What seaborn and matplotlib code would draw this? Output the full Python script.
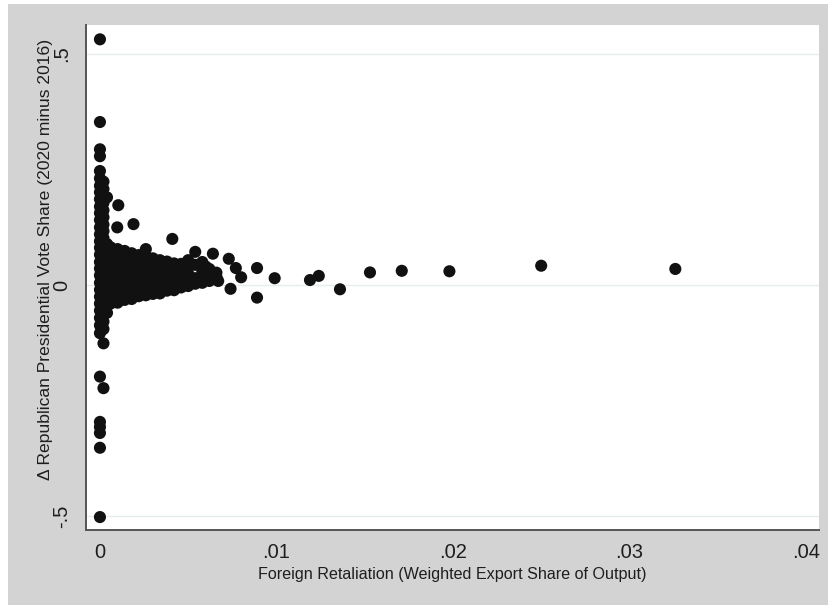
import numpy as np
import pandas as pd
import matplotlib
matplotlib.use('Agg')
import matplotlib.pyplot as plt
from matplotlib.patches import Rectangle
import seaborn as sns

# county points (x = export share, y = change in vote share)
# stacked column at x ~ 0
stack_pts = [
    (0.0, 0.532), (0.0, 0.353), (0.0, 0.294), (0.0, 0.279), (0.0, 0.247), (0.0, 0.231),
    (0.0, 0.215), (0.0, 0.201), (0.0, 0.186), (0.0, 0.170), (0.0, 0.156), (0.0, 0.141),
    (0.0, 0.125), (0.0, 0.110), (0.0, 0.095), (0.0, 0.081), (0.0, 0.066), (0.0, 0.050),
    (0.0, 0.036), (0.0, 0.021), (0.0, 0.005), (0.0, -0.010), (0.0, -0.025), (0.0, -0.040),
    (0.0, -0.055), (0.0, -0.071), (0.0, -0.087), (0.0, -0.104), (0.0, -0.198), (0.0, -0.296),
    (0.0, -0.307), (0.0, -0.320), (0.0, -0.352), (0.0, -0.502),
    (0.0002, 0.224), (0.0002, 0.208), (0.0002, 0.193), (0.0002, 0.178), (0.0002, 0.162),
    (0.0002, 0.147), (0.0002, 0.131), (0.0002, 0.117), (0.0002, 0.102), (0.0002, 0.088),
    (0.0002, 0.073), (0.0002, 0.058), (0.0002, 0.043), (0.0002, 0.028), (0.0002, 0.013),
    (0.0002, -0.003), (0.0002, -0.018), (0.0002, -0.033), (0.0002, -0.048), (0.0002, -0.063),
    (0.0002, -0.079), (0.0002, -0.095), (0.0002, -0.126), (0.0002, -0.223),
    (0.0004, 0.190), (0.0004, 0.089), (0.0004, 0.074), (0.0004, 0.059), (0.0004, 0.044),
    (0.0004, 0.029), (0.0004, 0.014), (0.0004, -0.001), (0.0004, -0.016), (0.0004, -0.031),
    (0.0004, -0.046), (0.0004, -0.060),
]

# the dense fan just right of zero
fan_pts = [
    (0.0006, 0.082), (0.0006, 0.067), (0.0006, 0.052), (0.0006, 0.037), (0.0006, 0.022),
    (0.0006, 0.007), (0.0006, -0.008), (0.0006, -0.023), (0.0006, -0.040),
    (0.0010, 0.078), (0.0010, 0.063), (0.0010, 0.048), (0.0010, 0.033), (0.0010, 0.018),
    (0.0010, 0.003), (0.0010, -0.012), (0.0010, -0.027), (0.0010, -0.038),
    (0.0014, 0.074), (0.0014, 0.059), (0.0014, 0.044), (0.0014, 0.029), (0.0014, 0.014),
    (0.0014, -0.001), (0.0014, -0.016), (0.0014, -0.032),
    (0.0018, 0.069), (0.0018, 0.054), (0.0018, 0.039), (0.0018, 0.024), (0.0018, 0.009),
    (0.0018, -0.006), (0.0018, -0.021), (0.0018, -0.030),
    (0.0022, 0.065), (0.0022, 0.050), (0.0022, 0.035), (0.0022, 0.020), (0.0022, 0.005),
    (0.0022, -0.010), (0.0022, -0.024),
    (0.0026, 0.078), (0.0026, 0.062), (0.0026, 0.047), (0.0026, 0.032), (0.0026, 0.017),
    (0.0026, 0.002), (0.0026, -0.013), (0.0026, -0.022),
    (0.0030, 0.058), (0.0030, 0.043), (0.0030, 0.028), (0.0030, 0.013), (0.0030, -0.002),
    (0.0030, -0.019),
    (0.0034, 0.054), (0.0034, 0.039), (0.0034, 0.024), (0.0034, 0.009), (0.0034, -0.006),
    (0.0034, -0.018),
    (0.0038, 0.051), (0.0038, 0.036), (0.0038, 0.021), (0.0038, 0.006), (0.0038, -0.009),
    (0.0038, -0.012),
    (0.0042, 0.047), (0.0042, 0.032), (0.0042, 0.017), (0.0042, 0.002), (0.0042, -0.011),
    (0.0046, 0.046), (0.0046, 0.031), (0.0046, 0.016), (0.0046, 0.002), (0.0046, -0.005),
    (0.0050, 0.054), (0.0050, 0.039), (0.0050, 0.025), (0.0050, 0.011), (0.0050, -0.002),
    (0.0054, 0.044), (0.0054, 0.015), (0.0054, 0.003),
    (0.0058, 0.030), (0.0058, 0.017), (0.0058, 0.005),
    (0.0062, 0.035), (0.0062, 0.022), (0.0062, 0.009),
    (0.0066, 0.027), (0.0066, 0.018),
]

# scattered points further out
tail_pts = [
    (0.00104, 0.173), (0.00098, 0.125), (0.0019, 0.132), (0.0041, 0.100), (0.0054, 0.072),
    (0.0064, 0.068), (0.0073, 0.057), (0.0058, 0.050), (0.0060, 0.040), (0.0077, 0.037),
    (0.0080, 0.017), (0.0074, -0.008), (0.0066, 0.015), (0.0067, 0.009), (0.0089, 0.037),
    (0.0089, -0.027), (0.0099, 0.015), (0.0119, 0.011), (0.0124, 0.020), (0.0136, -0.009),
    (0.0153, 0.0275), (0.0171, 0.031), (0.0198, 0.030), (0.0250, 0.042), (0.0326, 0.035),
]

x_ticks = [0, 0.01, 0.02, 0.03, 0.04]
x_tick_labels = ['0', '.01', '.02', '.03', '.04']
y_ticks = [-0.5, 0, 0.5]
y_tick_labels = ['-.5', '0', '.5']

x_title = 'Foreign Retaliation (Weighted Export Share of Output)'
y_title = 'Δ Republican Presidential Vote Share (2020 minus 2016)'

df = pd.DataFrame(stack_pts + fan_pts + tail_pts, columns=['retaliation', 'dvote'])

sns.set_style('white')
plt.rcParams['font.family'] = ['Liberation Sans', 'DejaVu Sans']

fig = plt.figure(figsize=(8.29, 6.05), dpi=100)
fig.patch.set_facecolor('white')
# grey graph region like Stata
fig.patches.append(Rectangle((8 / 829, 0), 1, 1 - 4 / 605, transform=fig.transFigure,
                             facecolor='#d3d3d3', edgecolor='none', zorder=-5))

ax = fig.add_axes([86 / 829, 1 - 530 / 605, 733 / 829, 505 / 605])
ax.set_zorder(2)
ax.set_facecolor('white')

sns.scatterplot(data=df, x='retaliation', y='dvote', ax=ax, s=76, color='#111111',
                edgecolor='none', linewidth=0, zorder=3)

ax.set_xlim(-0.00079, 0.04074)
ax.set_ylim(-0.530, 0.563)
ax.set_xticks(x_ticks)
ax.set_xticklabels(x_tick_labels, fontsize=14.5, color='#1e1e1e')
ax.set_yticks(y_ticks)
ax.set_yticklabels(y_tick_labels, fontsize=14.5, color='#1e1e1e', rotation=90, va='center')

for yv in y_ticks:
    ax.axhline(yv, color='#e6eded', lw=1.0, zorder=1)

for side in ['top', 'right']:
    ax.spines[side].set_visible(False)
for side in ['left', 'bottom']:
    ax.spines[side].set_color('#555555')
    ax.spines[side].set_linewidth(1.4)

ax.tick_params(axis='both', direction='out', length=6, width=0.9, color='#555555')
ax.tick_params(axis='x', pad=3.5)
ax.tick_params(axis='y', pad=4.5)

ax.set_xlabel('')
ax.set_ylabel('')
fig.text(452 / 829, 1 - 574 / 605, x_title, ha='center', va='center', fontsize=11.6,
         color='#1e1e1e', zorder=4)
fig.text(46 / 829, 1 - 259.5 / 605, y_title, ha='center', va='center', rotation=90,
         fontsize=12.6, color='#1e1e1e', zorder=4)

fig.savefig('out.png', dpi=100)
